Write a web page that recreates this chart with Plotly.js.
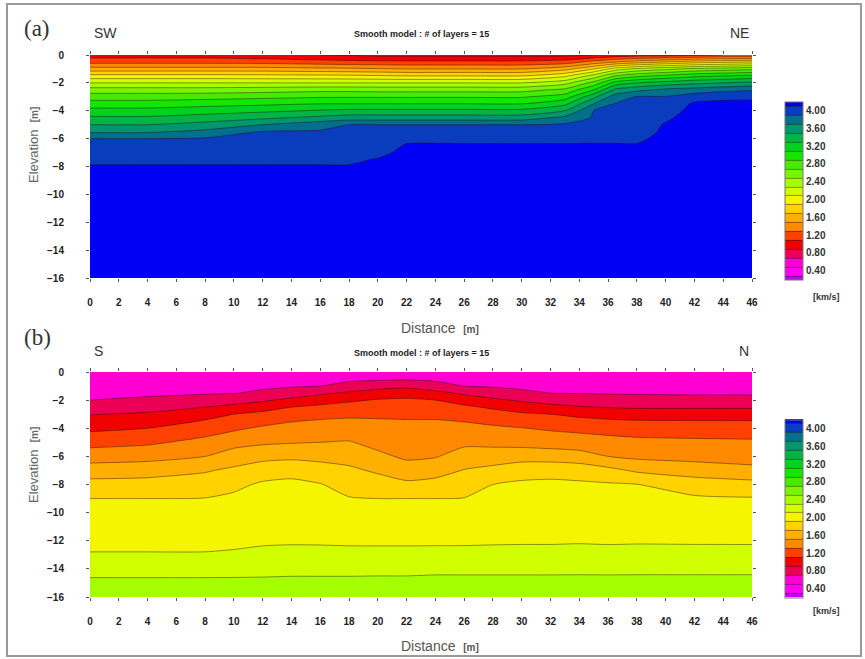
<!DOCTYPE html>
<html>
<head>
<meta charset="utf-8">
<script src="https://cdn.plot.ly/plotly-3.0.1.min.js"></script>
<style>
  html, body { margin: 0; padding: 0; background: #fff; }
  #chart { width: 865px; height: 659px; }
</style>
</head>
<body>
<div id="chart"></div>
<script>
// ---------- Panel (a): SW - NE section ----------
const xA = [0, 4, 8, 12, 16, 18, 20, 22, 26, 30, 33, 35, 36.5, 38, 40, 42, 44, 46];
const yA = [0, -0.5, -1, -1.5, -2, -2.5, -3, -3.5, -4, -4.5, -5, -5.5, -6, -6.5, -7, -7.5, -8, -10, -13, -16];
// velocity profile (km/s) for every distance in xA, top to bottom along yA
const zA = [
  [1.00, 1.23, 1.58, 1.97, 2.30, 2.59, 2.81, 2.99, 3.17, 3.33, 3.50, 3.67, 3.90, 3.96, 4.01, 4.07, 4.11, 4.20, 4.20, 4.20],
  [1.00, 1.23, 1.58, 1.97, 2.30, 2.59, 2.81, 2.99, 3.17, 3.33, 3.50, 3.67, 3.90, 3.96, 4.01, 4.07, 4.11, 4.20, 4.20, 4.20],
  [1.00, 1.23, 1.58, 1.97, 2.30, 2.59, 2.82, 3.03, 3.21, 3.39, 3.57, 3.75, 3.92, 3.97, 4.02, 4.07, 4.11, 4.20, 4.20, 4.20],
  [0.95, 1.22, 1.58, 1.96, 2.30, 2.61, 2.85, 3.06, 3.26, 3.46, 3.70, 3.91, 3.94, 3.98, 4.02, 4.07, 4.11, 4.20, 4.20, 4.20],
  [0.90, 1.18, 1.55, 1.95, 2.30, 2.64, 2.88, 3.10, 3.32, 3.55, 3.83, 3.92, 3.95, 3.98, 4.02, 4.07, 4.11, 4.20, 4.20, 4.20],
  [0.88, 1.16, 1.54, 1.94, 2.30, 2.64, 2.88, 3.10, 3.35, 3.60, 3.90, 3.93, 3.95, 3.98, 4.02, 4.07, 4.11, 4.20, 4.20, 4.20],
  [0.85, 1.15, 1.52, 1.92, 2.30, 2.63, 2.88, 3.10, 3.35, 3.60, 3.90, 3.92, 3.94, 3.98, 4.05, 4.11, 4.14, 4.20, 4.20, 4.20],
  [0.85, 1.14, 1.50, 1.90, 2.30, 2.63, 2.88, 3.10, 3.35, 3.60, 3.90, 3.95, 4.05, 4.12, 4.15, 4.18, 4.20, 4.20, 4.20, 4.20],
  [0.85, 1.14, 1.50, 1.90, 2.30, 2.63, 2.88, 3.10, 3.35, 3.60, 3.90, 3.95, 4.05, 4.12, 4.15, 4.18, 4.20, 4.20, 4.20, 4.20],
  [0.85, 1.14, 1.50, 1.90, 2.30, 2.63, 2.88, 3.10, 3.35, 3.60, 3.90, 3.95, 4.05, 4.12, 4.15, 4.18, 4.20, 4.20, 4.20, 4.20],
  [0.85, 1.19, 1.63, 2.06, 2.43, 2.75, 3.00, 3.25, 3.50, 3.75, 3.93, 3.97, 4.05, 4.12, 4.15, 4.18, 4.20, 4.20, 4.20, 4.20],
  [0.90, 1.37, 1.90, 2.38, 2.77, 3.10, 3.45, 3.70, 3.90, 3.92, 3.95, 3.98, 4.06, 4.12, 4.15, 4.18, 4.20, 4.20, 4.20, 4.20],
  [0.95, 1.50, 2.20, 2.70, 3.18, 3.55, 3.80, 3.91, 3.93, 3.95, 3.96, 3.98, 4.06, 4.12, 4.15, 4.18, 4.20, 4.20, 4.20, 4.20],
  [1.00, 1.60, 2.35, 2.85, 3.30, 3.65, 3.91, 3.93, 3.94, 3.95, 3.97, 3.98, 4.05, 4.12, 4.15, 4.18, 4.20, 4.20, 4.20, 4.20],
  [1.00, 1.70, 2.45, 2.95, 3.38, 3.75, 3.91, 3.95, 4.00, 4.06, 4.12, 4.15, 4.18, 4.20, 4.20, 4.20, 4.20, 4.20, 4.20, 4.20],
  [1.05, 1.80, 2.55, 3.05, 3.45, 3.80, 4.00, 4.13, 4.17, 4.20, 4.20, 4.20, 4.20, 4.20, 4.20, 4.20, 4.20, 4.20, 4.20, 4.20],
  [1.10, 1.85, 2.60, 3.10, 3.50, 3.85, 4.05, 4.15, 4.20, 4.20, 4.20, 4.20, 4.20, 4.20, 4.20, 4.20, 4.20, 4.20, 4.20, 4.20],
  [1.10, 1.90, 2.65, 3.15, 3.55, 3.88, 4.06, 4.15, 4.20, 4.20, 4.20, 4.20, 4.20, 4.20, 4.20, 4.20, 4.20, 4.20, 4.20, 4.20]
];

// ---------- Panel (b): S - N section ----------
const xB = [0, 4, 8, 10, 12, 14, 16, 18, 20, 22, 24, 26, 28, 30, 32, 34, 36, 38, 42, 46];
const yB = [0, -0.5, -1, -1.5, -2, -2.5, -3, -4, -5, -6, -7, -8, -9, -10, -11, -12, -13, -14, -15, -16];
const zB = [
  [0.60, 0.625, 0.650, 0.675, 0.700, 0.795, 0.890, 1.058, 1.230, 1.410, 1.600, 1.767, 1.900, 1.951, 2.003, 2.054, 2.112, 2.229, 2.343, 2.45],
  [0.60, 0.626, 0.653, 0.679, 0.721, 0.826, 0.926, 1.100, 1.267, 1.433, 1.620, 1.775, 1.900, 1.951, 2.003, 2.054, 2.112, 2.229, 2.343, 2.45],
  [0.60, 0.629, 0.657, 0.686, 0.767, 0.900, 1.025, 1.208, 1.357, 1.500, 1.682, 1.800, 1.905, 1.955, 2.005, 2.055, 2.112, 2.229, 2.343, 2.45],
  [0.60, 0.631, 0.663, 0.694, 0.814, 0.957, 1.100, 1.267, 1.433, 1.592, 1.738, 1.863, 1.931, 1.976, 2.020, 2.064, 2.122, 2.233, 2.343, 2.45],
  [0.60, 0.636, 0.671, 0.729, 0.871, 1.023, 1.148, 1.329, 1.471, 1.633, 1.820, 1.923, 1.962, 2.000, 2.038, 2.077, 2.140, 2.240, 2.343, 2.45],
  [0.60, 0.642, 0.683, 0.792, 0.946, 1.100, 1.211, 1.371, 1.488, 1.650, 1.856, 1.930, 1.968, 2.006, 2.043, 2.081, 2.148, 2.252, 2.343, 2.45],
  [0.60, 0.650, 0.700, 0.867, 1.014, 1.142, 1.247, 1.386, 1.500, 1.643, 1.786, 1.909, 1.951, 1.994, 2.036, 2.079, 2.148, 2.252, 2.343, 2.45],
  [0.60, 0.663, 0.767, 0.929, 1.071, 1.173, 1.264, 1.394, 1.512, 1.629, 1.736, 1.827, 1.911, 1.965, 2.019, 2.073, 2.148, 2.252, 2.343, 2.45],
  [0.60, 0.671, 0.820, 0.986, 1.115, 1.192, 1.269, 1.364, 1.444, 1.540, 1.673, 1.789, 1.900, 1.957, 2.014, 2.071, 2.150, 2.250, 2.350, 2.45],
  [0.60, 0.677, 0.856, 1.014, 1.129, 1.200, 1.271, 1.348, 1.409, 1.470, 1.583, 1.746, 1.900, 1.957, 2.014, 2.071, 2.150, 2.250, 2.350, 2.45],
  [0.60, 0.663, 0.780, 0.957, 1.100, 1.183, 1.267, 1.353, 1.420, 1.487, 1.623, 1.767, 1.900, 1.957, 2.014, 2.071, 2.153, 2.258, 2.356, 2.45],
  [0.60, 0.650, 0.700, 0.867, 1.014, 1.136, 1.227, 1.360, 1.460, 1.580, 1.710, 1.810, 1.906, 1.961, 2.017, 2.072, 2.153, 2.258, 2.356, 2.45],
  [0.60, 0.642, 0.683, 0.792, 0.940, 1.073, 1.173, 1.334, 1.449, 1.596, 1.757, 1.900, 1.944, 1.989, 2.033, 2.078, 2.153, 2.258, 2.356, 2.45],
  [0.60, 0.636, 0.671, 0.729, 0.871, 1.007, 1.127, 1.306, 1.435, 1.611, 1.833, 1.927, 1.965, 2.004, 2.042, 2.081, 2.153, 2.258, 2.356, 2.45],
  [0.60, 0.633, 0.667, 0.700, 0.825, 0.957, 1.100, 1.274, 1.417, 1.600, 1.850, 1.930, 1.968, 2.006, 2.043, 2.081, 2.153, 2.258, 2.356, 2.45],
  [0.60, 0.631, 0.663, 0.694, 0.794, 0.914, 1.057, 1.248, 1.400, 1.575, 1.825, 1.927, 1.967, 2.006, 2.045, 2.084, 2.160, 2.260, 2.356, 2.45],
  [0.60, 0.629, 0.659, 0.688, 0.771, 0.888, 1.029, 1.225, 1.371, 1.500, 1.757, 1.920, 1.960, 2.000, 2.040, 2.080, 2.153, 2.258, 2.356, 2.45],
  [0.60, 0.629, 0.657, 0.686, 0.759, 0.876, 1.014, 1.212, 1.349, 1.457, 1.671, 1.904, 1.949, 1.993, 2.038, 2.082, 2.160, 2.260, 2.356, 2.45],
  [0.60, 0.628, 0.656, 0.683, 0.750, 0.875, 1.014, 1.204, 1.336, 1.438, 1.600, 1.809, 1.926, 1.977, 2.028, 2.079, 2.160, 2.260, 2.356, 2.45],
  [0.60, 0.628, 0.656, 0.683, 0.750, 0.875, 1.014, 1.200, 1.329, 1.424, 1.550, 1.770, 1.914, 1.968, 2.023, 2.078, 2.160, 2.260, 2.356, 2.45]
];

// colour-bar labels
const cbVals = [0.4, 0.8, 1.2, 1.6, 2.0, 2.4, 2.8, 3.2, 3.6, 4.0];
const cbText = ['0.40', '0.80', '1.20', '1.60', '2.00', '2.40', '2.80', '3.20', '3.60', '4.00'];
const xTicks = [0, 2, 4, 6, 8, 10, 12, 14, 16, 18, 20, 22, 24, 26, 28, 30, 32, 34, 36, 38, 40, 42, 44, 46];
const yTicks = [0, -2, -4, -6, -8, -10, -12, -14, -16];

// discrete palette, one colour per 0.2 km/s band (0.2 ... 4.2)
const bandColors = ['#c000ff', '#ff00f0', '#ff00d2', '#eb0055', '#f00000', '#ff4100', '#ff8a00',
  '#ffaf00', '#ffd200', '#f5f500', '#d2ff00', '#a5ff00', '#78f500', '#46eb00', '#14e600',
  '#00d21e', '#00b446', '#00966e', '#00708c', '#0a3cbe', '#0000f5'];
const colorscale = bandColors.map((c, k) => [k / (bandColors.length - 1), c]);

const contours = { start: 0.3, end: 4.1, size: 0.2, coloring: 'fill', showlines: true };
const lineStyle = { color: 'rgba(30,10,10,0.55)', width: 0.8, smoothing: 0.6 };
const tickFont = { family: 'Liberation Sans, Arial, sans-serif', size: 10, color: '#222', weight: 'bold' };

function cbar(yc) {
  return {
    x: (785 - 90) / 662, xanchor: 'left', xpad: 0,
    y: yc, yanchor: 'middle', ypad: 0,
    len: 178, lenmode: 'pixels', thickness: 18,
    outlinewidth: 1, outlinecolor: '#777',
    tickvals: cbVals, ticktext: cbText, ticks: '',
    tickfont: { family: 'Liberation Sans, Arial, sans-serif', size: 10, color: '#333', weight: 'bold' }
  };
}

const traceA = {
  type: 'contour', x: xA, y: yA, z: zA, transpose: true,
  xaxis: 'x', yaxis: 'y',
  autocontour: false, contours: contours, line: lineStyle,
  colorscale: colorscale, zmin: 0.2, zmax: 4.2,
  colorbar: cbar((597 - 190.5) / 542), hoverinfo: 'skip'
};
const traceB = {
  type: 'contour', x: xB, y: yB, z: zB, transpose: true,
  xaxis: 'x2', yaxis: 'y2',
  autocontour: false, contours: contours, line: lineStyle,
  colorscale: colorscale, zmin: 0.2, zmax: 4.2,
  colorbar: cbar((597 - 508.5) / 542), hoverinfo: 'skip'
};

function xax(anchor) {
  return {
    anchor: anchor, domain: [0, 1], range: [0, 46],
    tickvals: xTicks, ticks: 'outside', ticklen: 3, tickcolor: '#555', mirror: 'ticks',
    ticklabelstandoff: 12, tickfont: tickFont,
    showgrid: false, zeroline: false, showline: false
  };
}
function yax(anchor, dom) {
  return {
    anchor: anchor, domain: dom, range: [-16, 0],
    tickvals: yTicks, ticks: 'outside', ticklen: 3, tickcolor: '#555', mirror: 'ticks',
    ticklabelstandoff: 20, tickfont: tickFont,
    showgrid: false, zeroline: false, showline: false
  };
}

const px = p => (p - 90) / 662;
const py = p => (597 - p) / 542;
const sans = 'Liberation Sans, Arial, sans-serif';
function ann(text, x, y, opts) {
  return Object.assign({ text: text, x: px(x), y: py(y), xref: 'paper', yref: 'paper',
    showarrow: false, xanchor: 'center', yanchor: 'middle' }, opts || {});
}

const annotations = [
  ann('(a)', 37, 29, { font: { family: 'Liberation Serif, Times New Roman, serif', size: 23, color: '#333' } }),
  ann('(b)', 37, 337, { font: { family: 'Liberation Serif, Times New Roman, serif', size: 23, color: '#333' } }),
  ann('SW', 92, 33, { xanchor: 'left', font: { family: sans, size: 14, color: '#333' } }),
  ann('NE', 751, 33, { xanchor: 'right', font: { family: sans, size: 14, color: '#333' } }),
  ann('S', 92, 351, { xanchor: 'left', font: { family: sans, size: 14, color: '#333' } }),
  ann('N', 751, 351, { xanchor: 'right', font: { family: sans, size: 14, color: '#333' } }),
  ann('Smooth model : # of layers = 15', 421, 34, { font: { family: sans, size: 9, color: '#222', weight: 'bold' } }),
  ann('Smooth model : # of layers = 15', 421, 353, { font: { family: sans, size: 9, color: '#222', weight: 'bold' } }),
  ann('Distance  <b style="font-size:10px">[m]</b>', 440, 328, { font: { family: sans, size: 14, color: '#555' } }),
  ann('Distance  <b style="font-size:10px">[m]</b>', 440, 646, { font: { family: sans, size: 14, color: '#555' } }),
  ann('Elevation  <b style="font-size:10px">[m]</b>', 33, 145, { textangle: -90, font: { family: sans, size: 13, color: '#666' } }),
  ann('Elevation  <b style="font-size:10px">[m]</b>', 33, 465, { textangle: -90, font: { family: sans, size: 13, color: '#666' } }),
  ann('[km/s]', 827, 297, { font: { family: sans, size: 9, color: '#333', weight: 'bold' } }),
  ann('[km/s]', 827, 611, { font: { family: sans, size: 9, color: '#333', weight: 'bold' } })
];

const layout = {
  width: 865, height: 659,
  margin: { l: 90, r: 113, t: 55, b: 62 },
  paper_bgcolor: '#ffffff', plot_bgcolor: '#ffffff',
  showlegend: false,
  xaxis: xax('y'),
  yaxis: yax('x', [(597 - 278) / 542, 1]),
  xaxis2: xax('y2'),
  yaxis2: yax('x2', [0, (597 - 372) / 542]),
  annotations: annotations,
  shapes: [{
    type: 'rect', xref: 'paper', yref: 'paper',
    x0: px(7), x1: px(861), y0: py(4), y1: py(656),
    line: { color: '#9a9a9a', width: 2 }, fillcolor: 'rgba(0,0,0,0)', layer: 'below'
  }]
};

Plotly.newPlot('chart', [traceA, traceB], layout, { displayModeBar: false, staticPlot: true });
</script>
</body>
</html>
